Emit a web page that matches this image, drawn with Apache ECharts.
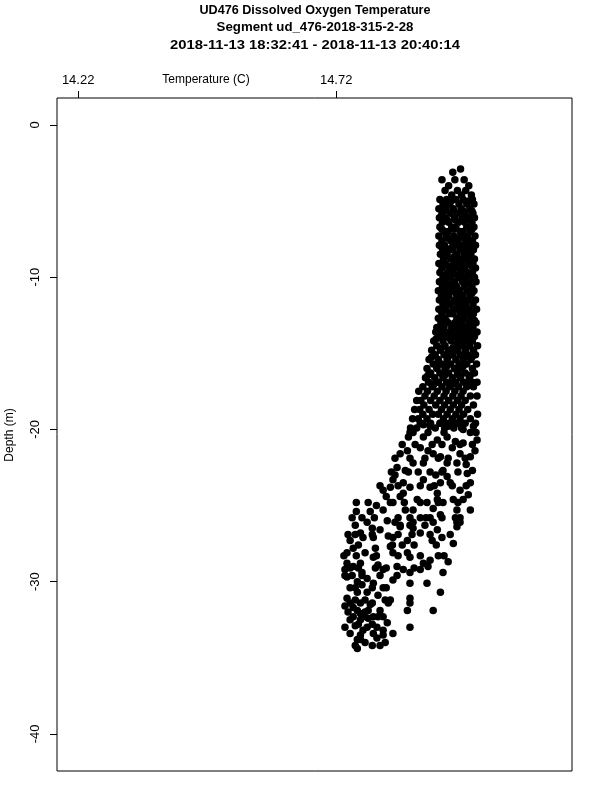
<!DOCTYPE html>
<html>
<head>
<meta charset="utf-8">
<script src="https://cdn.jsdelivr.net/npm/echarts@6/dist/echarts.min.js"></script>
<style>html,body{margin:0;padding:0;background:#fff}#chart{width:600px;height:800px}</style>
</head>
<body>
<div id="chart"></div>
<script>
const titleLines = ["UD476 Dissolved Oxygen Temperature", "Segment ud_476-2018-315-2-28", "2018-11-13 18:32:41 - 2018-11-13 20:40:14"];
const xAxisTitle = "Temperature (C)";
const yAxisTitle = "Depth (m)";
const xTicks = [14.22, 14.72];
const yTicks = [0, -10, -20, -30, -40];
const xRange = [14.179, 15.177];
const yRange = [-42.44, 1.77];

// upper column: [depth, [temperatures]]
const profileRows = [
  [-2.9, [14.961]],
  [-3.1, [14.946]],
  [-3.6, [14.925, 14.950, 14.968]],
  [-4.0, [14.938, 14.977]],
  [-4.3, [14.931, 14.955, 14.971]],
  [-4.6, [14.944, 14.963, 14.982]],
  [-4.9, [14.921, 14.934, 14.952, 14.966, 14.984]],
  [-5.0, [14.943, 14.977]],
  [-5.2, [14.927, 14.940, 14.958, 14.973, 14.987]],
  [-5.5, [14.919, 14.933, 14.947, 14.962, 14.979]],
  [-5.65, [14.929, 14.966, 14.983]],
  [-5.8, [14.925, 14.941, 14.955, 14.970, 14.985]],
  [-6.1, [14.920, 14.931, 14.949, 14.964, 14.976, 14.988]],
  [-6.25, [14.935, 14.951, 14.980]],
  [-6.4, [14.926, 14.938, 14.957, 14.969, 14.983]],
  [-6.7, [14.921, 14.944, 14.952, 14.973, 14.987]],
  [-6.85, [14.925, 14.948, 14.983]],
  [-7.0, [14.929, 14.937, 14.960, 14.966, 14.980]],
  [-7.3, [14.919, 14.933, 14.948, 14.962, 14.975, 14.989]],
  [-7.45, [14.936, 14.952, 14.968]],
  [-7.6, [14.925, 14.942, 14.956, 14.971, 14.984]],
  [-7.9, [14.920, 14.930, 14.951, 14.965, 14.979, 14.990]],
  [-8.05, [14.925, 14.944, 14.970]],
  [-8.2, [14.927, 14.939, 14.946, 14.960, 14.974, 14.986]],
  [-8.5, [14.922, 14.935, 14.954, 14.968, 14.981]],
  [-8.65, [14.934, 14.949, 14.978]],
  [-8.8, [14.928, 14.943, 14.959, 14.972, 14.988]],
  [-9.1, [14.919, 14.932, 14.949, 14.963, 14.977, 14.985]],
  [-9.25, [14.928, 14.944, 14.961, 14.982]],
  [-9.4, [14.925, 14.940, 14.955, 14.969, 14.990]],
  [-9.7, [14.921, 14.936, 14.946, 14.961, 14.975, 14.984]],
  [-9.85, [14.932, 14.955, 14.979]],
  [-10.0, [14.927, 14.942, 14.957, 14.970, 14.988]],
  [-10.3, [14.920, 14.933, 14.950, 14.965, 14.979, 14.991]],
  [-10.45, [14.926, 14.944, 14.972]],
  [-10.6, [14.926, 14.939, 14.953, 14.968, 14.983]],
  [-10.9, [14.918, 14.931, 14.945, 14.960, 14.974, 14.987]],
  [-11.05, [14.937, 14.952, 14.983]],
  [-11.2, [14.924, 14.938, 14.955, 14.966, 14.980]],
  [-11.5, [14.920, 14.934, 14.948, 14.962, 14.976, 14.990]],
  [-11.65, [14.930, 14.951, 14.966]],
  [-11.8, [14.927, 14.941, 14.957, 14.971, 14.985]],
  [-12.1, [14.919, 14.932, 14.951, 14.964, 14.978, 14.992]],
  [-12.25, [14.925, 14.944, 14.969, 14.982]],
  [-12.4, [14.925, 14.939, 14.946, 14.960, 14.973, 14.986]],
  [-12.7, [14.918, 14.930, 14.954, 14.967, 14.981]],
  [-12.85, [14.933, 14.960, 14.988]],
  [-13.0, [14.923, 14.937, 14.950, 14.963, 14.977, 14.991]],
  [-13.3, [14.915, 14.929, 14.944, 14.958, 14.970, 14.985]],
  [-13.45, [14.921, 14.950, 14.977]],
  [-13.6, [14.913, 14.926, 14.940, 14.955, 14.968, 14.982, 14.993]],
  [-13.9, [14.920, 14.934, 14.948, 14.961, 14.976, 14.988]],
  [-14.05, [14.914, 14.941, 14.967, 14.981]],
  [-14.2, [14.909, 14.927, 14.943, 14.957, 14.972, 14.984]],
  [-14.5, [14.915, 14.931, 14.951, 14.964, 14.979, 14.994]],
  [-14.65, [14.924, 14.946, 14.972]],
  [-14.8, [14.905, 14.922, 14.938, 14.955, 14.970, 14.986]],
  [-15.1, [14.912, 14.929, 14.946, 14.960, 14.975, 14.990]],
  [-15.25, [14.905, 14.937, 14.969, 14.983]],
  [-15.4, [14.900, 14.918, 14.935, 14.952, 14.966, 14.981]],
  [-15.7, [14.908, 14.924, 14.942, 14.958, 14.973, 14.992]],
  [-15.85, [14.916, 14.934, 14.966]],
  [-16.0, [14.896, 14.915, 14.931, 14.949, 14.962, 14.984]],
  [-16.3, [14.903, 14.921, 14.938, 14.955, 14.970, 14.988]],
  [-16.45, [14.898, 14.930, 14.958, 14.980]],
  [-16.6, [14.893, 14.911, 14.927, 14.945, 14.961, 14.978]],
  [-16.9, [14.899, 14.918, 14.934, 14.952, 14.967, 14.984, 14.993]],
  [-17.05, [14.909, 14.944, 14.975]],
  [-17.2, [14.888, 14.906, 14.925, 14.940, 14.957, 14.973, 14.986]],
  [-17.5, [14.880, 14.897, 14.916, 14.933, 14.950, 14.966]],
  [-17.8, [14.892, 14.910, 14.929, 14.946, 14.962, 14.980, 14.993]],
  [-18.1, [14.876, 14.884, 14.903, 14.921, 14.938, 14.955, 14.970]],
  [-18.4, [14.890, 14.913, 14.930, 14.947, 14.963, 14.986]],
  [-18.7, [14.872, 14.882, 14.900, 14.924, 14.941, 14.958, 14.975]],
  [-19.0, [14.888, 14.907, 14.918, 14.935, 14.952, 14.967, 14.994]],
  [-19.3, [14.868, 14.879, 14.896, 14.928, 14.945, 14.960, 14.980]],
  [-19.6, [14.885, 14.903, 14.921, 14.939, 14.955, 14.970, 14.990]],
  [-19.9, [14.864, 14.876, 14.912, 14.930, 14.948, 14.963]]
];

// lower scattered section: [temperature, depth]
const scatterPoints = [
  [14.883,-19.6],[14.902,-19.8],[14.922,-19.6],[14.937,-19.8],[14.951,-19.6],[14.966,-20.0],[14.986,-19.8],
  [14.869,-20.2],[14.860,-20.5],[14.889,-20.5],[14.916,-20.7],[14.935,-20.5],[14.951,-20.8],[14.966,-20.9],[14.993,-20.7],
  [14.844,-21.6],[14.858,-21.4],[14.883,-21.2],[14.908,-21.6],[14.922,-21.8],[14.935,-22.2],[14.960,-21.6],[14.980,-21.8],
  [14.838,-22.5],[14.854,-22.7],[14.869,-22.2],[14.889,-22.2],[14.927,-22.7],[14.935,-23.1],[14.954,-22.2],[14.974,-22.9],
  [14.830,-23.3],[14.850,-23.5],[14.863,-23.8],[14.889,-23.3],[14.902,-23.8],[14.916,-24.2],[14.922,-23.5],[14.960,-24.0],[14.980,-23.5],
  [14.811,-24.0],[14.825,-23.8],[14.844,-24.4],[14.850,-24.2],[14.877,-24.6],[14.896,-24.8],[14.916,-24.6],[14.927,-24.8],[14.947,-24.6],[14.966,-24.6],
  [14.811,-25.3],[14.830,-24.8],[14.854,-25.3],[14.869,-25.3],[14.883,-25.8],[14.908,-25.2],[14.902,-25.8],[14.954,-25.3],[14.960,-25.8],[14.960,-26.1],[14.980,-25.3],
  [14.819,-26.0],[14.844,-26.3],[14.869,-26.1],[14.908,-26.1],[14.954,-26.4],
  [14.873,-21.0],[14.898,-21.4],[14.945,-21.2],[14.972,-22.3],[14.989,-21.4],[14.913,-23.0],[14.941,-23.5],[14.879,-22.8],
  [14.834,-23.0],[14.817,-24.4],[14.798,-25.0],[14.786,-25.4],[14.922,-25.6],[14.976,-24.3],[14.984,-22.7],[14.991,-20.2],
  [14.757,-26.3],[14.780,-26.1],[14.790,-26.5],[14.844,-26.4],[14.863,-26.3],[14.869,-26.5],[14.892,-26.3],[14.916,-26.6],[14.954,-26.1],
  [14.767,-26.8],[14.772,-27.1],[14.792,-27.1],[14.830,-27.1],[14.858,-27.3],[14.883,-26.8],[14.906,-27.3],[14.925,-27.1],[14.947,-27.5],
  [14.741,-28.1],[14.753,-27.8],[14.825,-27.7],[14.830,-28.1],[14.858,-28.1],[14.863,-28.4],[14.889,-28.8],[14.902,-28.6],[14.918,-28.3],[14.937,-28.7],
  [14.741,-28.8],[14.753,-29.0],[14.767,-28.8],[14.792,-28.4],[14.811,-29.2],[14.838,-29.0],[14.850,-29.2],[14.863,-29.4],[14.883,-29.2],[14.898,-29.0],[14.927,-29.4],
  [14.741,-29.7],[14.761,-30.0],[14.780,-29.8],[14.792,-30.1],[14.811,-30.4],[14.830,-29.9],[14.863,-30.1],[14.896,-30.1],[14.922,-30.7],
  [14.741,-31.1],[14.761,-30.7],[14.780,-30.7],[14.801,-30.9],[14.825,-31.2],[14.863,-31.1],
  [14.753,-31.7],[14.767,-32.1],[14.786,-31.5],[14.792,-32.3],[14.858,-31.9],[14.908,-31.9],
  [14.747,-32.5],[14.767,-32.5],[14.780,-33.0],[14.799,-33.0],[14.819,-32.7],[14.830,-33.4],[14.863,-33.0],
  [14.747,-33.4],[14.761,-33.8],[14.792,-33.4],[14.799,-33.7],[14.805,-34.2],[14.757,-34.2],
  [14.747,-27.3],[14.763,-27.6],[14.776,-28.1],[14.796,-27.8],[14.737,-29.2],[14.751,-29.6],[14.770,-29.4],[14.801,-28.9],
  [14.747,-30.4],[14.770,-30.2],[14.737,-31.6],[14.776,-31.2],[14.757,-31.2],[14.776,-32.0],[14.805,-31.9],[14.757,-32.9],
  [14.772,-33.2],[14.782,-32.4],[14.737,-33.0],[14.767,-33.8],[14.790,-34.2],[14.811,-33.2],[14.743,-32.0],[14.815,-31.2],
  [14.805,-26.6],[14.821,-27.0],[14.834,-26.1],[14.770,-25.8],[14.759,-25.4],
  [14.889,-19.7],[14.931,-19.7],[14.964,-19.7],
  [14.863,-20.2],[14.898,-20.2],[14.929,-20.2],[14.980,-20.2],
  [14.848,-21.0],[14.906,-21.0],[14.925,-21.0],[14.960,-21.0],[14.984,-21.0],
  [14.834,-21.9],[14.863,-21.9],[14.892,-21.9],[14.918,-21.9],[14.937,-21.9],[14.970,-21.9],
  [14.827,-22.8],[14.860,-22.8],[14.902,-22.8],[14.925,-22.8],[14.956,-22.8],
  [14.805,-23.7],[14.840,-23.7],[14.883,-23.7],[14.910,-23.7],[14.945,-23.7],[14.972,-23.7],
  [14.759,-24.8],[14.782,-24.8],[14.825,-24.8],[14.852,-24.8],[14.883,-24.8],[14.918,-24.8],[14.956,-24.8],
  [14.751,-25.8],[14.794,-25.8],[14.840,-25.8],[14.863,-25.8],[14.894,-25.8],[14.925,-25.8],[14.951,-25.8],
  [14.743,-26.9],[14.757,-26.9],[14.790,-26.9],[14.840,-26.9],[14.867,-26.9],[14.902,-26.9],[14.941,-26.9],
  [14.829,-27.6],[14.848,-27.6],[14.871,-27.6],[14.914,-27.6],
  [14.735,-28.3],[14.759,-28.3],[14.798,-28.3],[14.840,-28.3],[14.883,-28.3],[14.929,-28.3],
  [14.747,-29.1],[14.763,-29.1],[14.796,-29.1],[14.817,-29.1],[14.871,-29.1],
  [14.737,-29.6],[14.770,-29.6],[14.805,-29.6],[14.838,-29.6],
  [14.757,-30.4],[14.790,-30.4],[14.817,-30.4],
  [14.747,-31.4],[14.767,-31.4],[14.790,-31.4],[14.821,-31.4],[14.863,-31.4],
  [14.761,-31.9],[14.782,-31.9],
  [14.753,-32.3],[14.772,-32.3],[14.801,-32.3],[14.811,-32.3],
  [14.763,-32.8],[14.790,-32.8],
  [14.767,-33.5],[14.811,-33.5],
  [14.776,-34.0],[14.815,-34.0],[14.761,-34.4]
];

const points = [];
profileRows.forEach(function (row) {
  row[1].forEach(function (t) { points.push([t, row[0]]); });
});
scatterPoints.forEach(function (p) { points.push([p[0], p[1]]); });

const FONT = "Liberation Sans, Arial, Helvetica, sans-serif";
function titleText(i, y, sx) {
  return {type: 'text', x: 315, y: y, scaleX: sx,
    style: {text: titleLines[i], x: 0, y: 0, textAlign: 'center', textVerticalAlign: 'middle', font: 'bold 13px ' + FONT, fill: '#000'}};
}
const chart = echarts.init(document.getElementById('chart'), null, {renderer: 'canvas'});
chart.setOption({
  animation: false,
  backgroundColor: '#fff',
  grid: {left: 57, right: 28, top: 98, bottom: 29, show: true, borderColor: '#000', borderWidth: 1, backgroundColor: 'transparent'},
  xAxis: {
    type: 'value', position: 'top', min: xRange[0], max: xRange[1],
    splitLine: {show: false}, axisLine: {show: false, onZero: false},
    axisTick: {show: true, inside: false, length: 7, lineStyle: {color: '#000'}, customValues: xTicks},
    axisLabel: {show: true, margin: 11, color: '#000', fontSize: 13, fontFamily: FONT, customValues: xTicks,
      formatter: function (v) { return v.toFixed(2); }}
  },
  yAxis: {
    type: 'value', min: yRange[0], max: yRange[1],
    splitLine: {show: false}, axisLine: {show: false, onZero: false},
    axisTick: {show: true, length: 7, lineStyle: {color: '#000'}, customValues: yTicks},
    axisLabel: {show: true, rotate: 90, margin: 15, color: '#000', fontSize: 13, fontFamily: FONT, customValues: yTicks}
  },
  graphic: [
    titleText(0, 10, 0.97),
    titleText(1, 27, 1.02),
    titleText(2, 45, 1.14),
    {type: 'text', style: {text: xAxisTitle, x: 206, y: 80, textAlign: 'center', textVerticalAlign: 'middle', font: '12px ' + FONT, fill: '#000'}},
    {type: 'text', x: 10, y: 435, rotation: Math.PI / 2, style: {text: yAxisTitle, x: 0, y: 0, textAlign: 'center', textVerticalAlign: 'middle', font: '12px ' + FONT, fill: '#000'}}
  ],
  series: [{
    type: 'scatter', data: points, symbol: 'circle', symbolSize: 7.5,
    itemStyle: {color: '#000', opacity: 1}, silent: true
  }]
});
</script>
</body>
</html>
